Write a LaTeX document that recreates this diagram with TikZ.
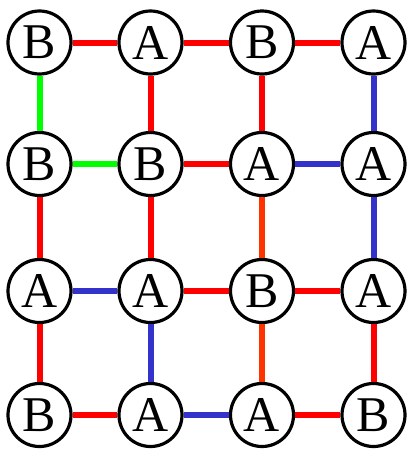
\documentclass[tikz,border=0pt]{standalone}
\usepackage{fontspec}
\setmainfont{Liberation Serif}
\definecolor{cred}{HTML}{FF0000}
\definecolor{cgreen}{HTML}{00FF00}
\definecolor{cblue}{HTML}{3333CC}
\definecolor{corange}{HTML}{FF3300}
\begin{document}
\begin{tikzpicture}[x=1pt,y=-1pt,
  vtx/.style={circle,draw=black,line width=3.2pt,fill=white,minimum size=63pt,inner sep=0pt,
    font=\fontsize{50}{50}\selectfont},
  ed/.style={line width=6pt}]
\useasboundingbox (0,0) rectangle (409,453);
\def\xa{39.5}\def\xb{150.5}\def\xc{262}\def\xd{373.5}
\def\ya{42.5}\def\yb{164}\def\yc{291}\def\yd{415}
\node[vtx] (n11) at (\xa,\ya) {B};
\node[vtx] (n12) at (\xb,\ya) {A};
\node[vtx] (n13) at (\xc,\ya) {B};
\node[vtx] (n14) at (\xd,\ya) {A};
\node[vtx] (n21) at (\xa,\yb) {B};
\node[vtx] (n22) at (\xb,\yb) {B};
\node[vtx] (n23) at (\xc,\yb) {A};
\node[vtx] (n24) at (\xd,\yb) {A};
\node[vtx] (n31) at (\xa,\yc) {A};
\node[vtx] (n32) at (\xb,\yc) {A};
\node[vtx] (n33) at (\xc,\yc) {B};
\node[vtx] (n34) at (\xd,\yc) {A};
\node[vtx] (n41) at (\xa,\yd) {B};
\node[vtx] (n42) at (\xb,\yd) {A};
\node[vtx] (n43) at (\xc,\yd) {A};
\node[vtx] (n44) at (\xd,\yd) {B};
% horizontal
\draw[ed,cred] (n11) -- (n12);
\draw[ed,cred] (n12) -- (n13);
\draw[ed,cred] (n13) -- (n14);
\draw[ed,cgreen] (n21) -- (n22);
\draw[ed,cred] (n22) -- (n23);
\draw[ed,cblue] (n23) -- (n24);
\draw[ed,cblue] (n31) -- (n32);
\draw[ed,cred] (n32) -- (n33);
\draw[ed,cred] (n33) -- (n34);
\draw[ed,cred] (n41) -- (n42);
\draw[ed,cblue] (n42) -- (n43);
\draw[ed,cred] (n43) -- (n44);
% vertical
\draw[ed,cgreen] (n11) -- (n21);
\draw[ed,cred] (n21) -- (n31);
\draw[ed,cred] (n31) -- (n41);
\draw[ed,cred] (n12) -- (n22);
\draw[ed,cred] (n22) -- (n32);
\draw[ed,cblue] (n32) -- (n42);
\draw[ed,cred] (n13) -- (n23);
\draw[ed,corange] (n23) -- (n33);
\draw[ed,corange] (n33) -- (n43);
\draw[ed,cblue] (n14) -- (n24);
\draw[ed,cblue] (n24) -- (n34);
\draw[ed,cred] (n34) -- (n44);
\end{tikzpicture}
\end{document}
